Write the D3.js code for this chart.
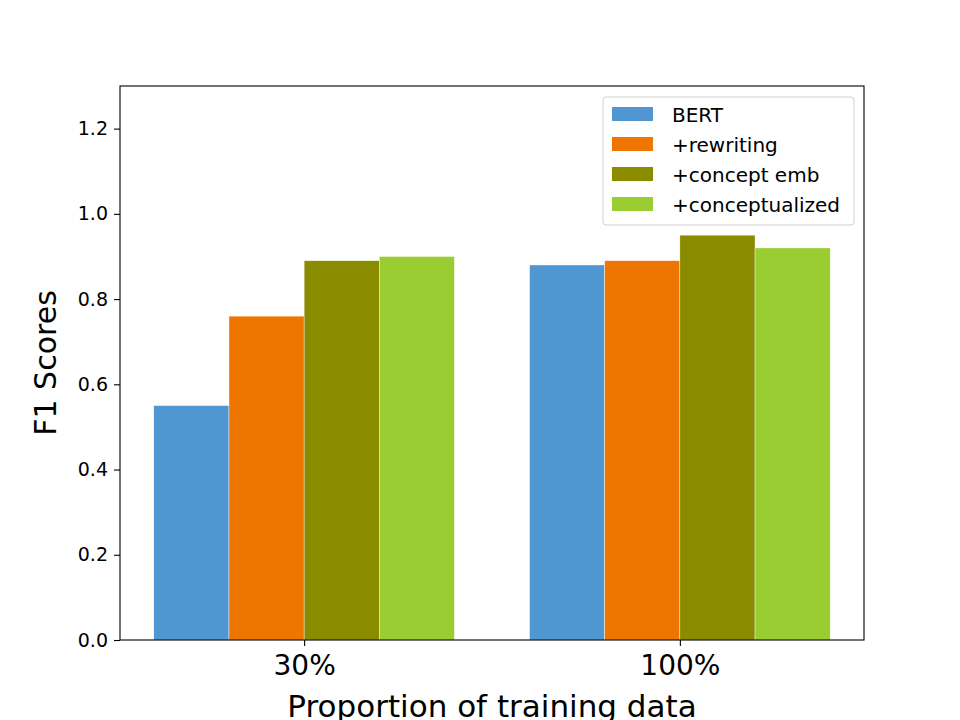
<!DOCTYPE html>
<html>
<head>
<meta charset="utf-8">
<script src="https://cdn.jsdelivr.net/npm/d3@7"></script>
<style>
  body { margin: 0; background: #fff; }
  text { font-family: "DejaVu Sans", sans-serif; fill: #000; }
</style>
</head>
<body>
<svg id="chart" width="960" height="720"></svg>
<script>
// data
var groups = ['30%', '100%'];
var series = ['BERT', '+rewriting', '+concept emb', '+conceptualized'];
var colors = ['#5096d1', '#ee7600', '#8b8b00', '#9acd32'];
var bert = [0.55, 0.88];
var rewriting = [0.76, 0.89];
var conceptEmb = [0.89, 0.95];
var conceptualized = [0.90, 0.92];
var yTicks = [0.0, 0.2, 0.4, 0.6, 0.8, 1.0, 1.2];

var values = [bert, rewriting, conceptEmb, conceptualized];

var svg = d3.select('#chart');
var m = {left: 120, right: 864, top: 86, bottom: 640};
var barW = 0.2;

// matplotlib-like x limits: bars span -0.4..1.4, plus 5% margins
var x = d3.scaleLinear().domain([-0.49, 1.49]).range([m.left, m.right]);
var y = d3.scaleLinear().domain([0, 1.3]).range([m.bottom, m.top]);

var g = svg.append('g');

// bars
series.forEach(function (s, si) {
    var off = (si - 1.5) * barW;
    g.selectAll('rect.s' + si).data(values[si]).enter().append('rect')
        .attr('class', 's' + si)
        .attr('x', function (d, i) { return x(i + off - barW / 2); })
        .attr('width', x(barW) - x(0))
        .attr('y', function (d) { return y(d); })
        .attr('height', function (d) { return y(0) - y(d); })
        .attr('fill', colors[si])
        .attr('stroke', '#fff')
        .attr('stroke-width', 0.4);
});

// y axis
var yAxis = d3.axisLeft(y).tickValues(yTicks).tickFormat(d3.format('.1f')).tickSize(6).tickPadding(6);
var ya = svg.append('g').attr('transform', 'translate(' + m.left + ',0)').call(yAxis);
ya.select('.domain').remove();
ya.selectAll('line').attr('stroke', '#000').attr('stroke-width', 1.1);
ya.selectAll('text').style('font-size', '19px');

// x axis
var xAxis = d3.axisBottom(x).tickValues([0, 1]).tickFormat(function (d) { return groups[d]; }).tickSize(6).tickPadding(9);
var xa = svg.append('g').attr('transform', 'translate(0,' + m.bottom + ')').call(xAxis);
xa.select('.domain').remove();
xa.selectAll('line').attr('stroke', '#000').attr('stroke-width', 1.1);
xa.selectAll('text').style('font-size', '28px');

// frame
svg.append('rect').attr('x', m.left).attr('y', m.top)
    .attr('width', m.right - m.left).attr('height', m.bottom - m.top)
    .attr('fill', 'none').attr('stroke', '#000').attr('stroke-width', 1.1);

// axis titles
svg.append('text').attr('x', (m.left + m.right) / 2).attr('y', 717)
    .attr('text-anchor', 'middle').style('font-size', '31px')
    .text('Proportion of training data');
svg.append('text').attr('transform', 'translate(56,' + (m.top + m.bottom) / 2 + ') rotate(-90)')
    .attr('text-anchor', 'middle').style('font-size', '30px')
    .text('F1 Scores');

// legend
var lg = svg.append('g').attr('transform', 'translate(603,97)');
lg.append('rect').attr('width', 251).attr('height', 128).attr('rx', 3)
    .attr('fill', '#fff').attr('fill-opacity', 0.8)
    .attr('stroke', '#d0d0d0').attr('stroke-width', 1);
var items = lg.selectAll('g.item').data(series).enter().append('g')
    .attr('class', 'item')
    .attr('transform', function (d, i) { return 'translate(9,' + (10 + i * 30) + ')'; });
items.append('rect').attr('width', 41).attr('height', 14)
    .attr('fill', function (d, i) { return colors[i]; });
items.append('text').attr('x', 60).attr('y', 15).style('font-size', '20px')
    .text(function (d) { return d; });
</script>
</body>
</html>
